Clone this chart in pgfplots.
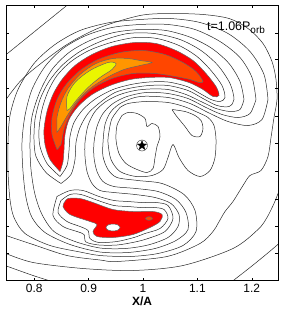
\documentclass[border=0pt]{standalone}
\usepackage{fontspec}
\setmainfont{Liberation Sans}
\usepackage{pgfplots}
\pgfplotsset{compat=1.18}
\definecolor{cred}{RGB}{255,0,0}
\definecolor{cor}{RGB}{255,70,0}
\definecolor{corange}{RGB}{255,150,0}
\definecolor{cyel}{RGB}{235,245,0}
\pgfdeclareplotmark{fstar}{%
 \pgfpathmoveto{\pgfqpoint{0pt}{5pt}}%
 \pgfpathlineto{\pgfqpoint{-1.18pt}{1.62pt}}%
 \pgfpathlineto{\pgfqpoint{-4.76pt}{1.55pt}}%
 \pgfpathlineto{\pgfqpoint{-1.9pt}{-0.62pt}}%
 \pgfpathlineto{\pgfqpoint{-2.94pt}{-4.05pt}}%
 \pgfpathlineto{\pgfqpoint{0pt}{-2pt}}%
 \pgfpathlineto{\pgfqpoint{2.94pt}{-4.05pt}}%
 \pgfpathlineto{\pgfqpoint{1.9pt}{-0.62pt}}%
 \pgfpathlineto{\pgfqpoint{4.76pt}{1.55pt}}%
 \pgfpathlineto{\pgfqpoint{1.18pt}{1.62pt}}%
 \pgfpathclose
 \pgfusepathqfillstroke}
\begin{document}
\begin{tikzpicture}
\begin{axis}[at={(0,0)}, anchor=south west,
 width=272bp, height=275bp, scale only axis,
 xmin=6, xmax=278, ymin=6, ymax=281, y dir=reverse,
 xtick={34.2,88.6,143,197.4,251.8}, xticklabels={0.8,0.9,1,1.1,1.2},
 ytick={33.3,60,88.3,116.7,143.3,171.7,200,226.7,253.3}, yticklabels={},
 tick align=inside, tick pos=both,
 major tick length=3bp, tick style={black, line width=0.5pt},
 axis line style={black, line width=0.6pt},
 ticklabel style={font=\fontsize{12}{14}\selectfont},
 xlabel={\textbf{X/A}}, xlabel style={font=\fontsize{12}{14}\selectfont, yshift=2.5bp},
 axis on top,
 cl/.style={black!85, line width=0.5pt, smooth, tension=0.5, mark=none},
 fl/.style={draw=black!60, line width=0.5pt, smooth, tension=0.5, mark=none},
]
% ---- filled levels ----
\addplot[fl, fill=cred] coordinates {(60,172)(50,160)(45,145)(44,130)(47,112)(53,95)(62,80)(75,66)(92,55)(112,47)(135,43)(156,44)(176,51)(193,61)(206,74)(216,87)(219,96)(213,97)(203,90)(189,83)(169,78)(149,78)(130,80)(110,86)(92,95)(78,107)(69,120)(65,135)(64,150)(63,162)(60,172)} -- cycle;
\addplot[fl, fill=cor] coordinates {(57,150)(52,135)(52,118)(57,100)(66,85)(80,71)(98,60)(120,53)(143,51)(165,55)(183,63)(196,72)(203,82)(199,83)(190,80)(175,77)(155,74)(133,74)(112,79)(94,88)(80,100)(70,115)(64,130)(61,145)(57,150)} -- cycle;
\addplot[fl, fill=corange] coordinates {(57,133)(57,118)(61,103)(68,89)(80,75)(96,64)(113,59)(128,59)(140,61)(152,63)(140,66)(124,70)(107,78)(90,89)(77,102)(68,115)(61,127)(57,133)} -- cycle;
\addplot[fl, fill=cyel] coordinates {(67,111)(67,97)(75,83)(90,71)(108,63)(116,64)(112,70)(100,78)(88,88)(77,100)(70,109)(67,111)} -- cycle;
\addplot[fl, fill=cred] coordinates {(65,202)(63,207)(70,215)(90,222)(97,225)(93,232)(97,237)(113,238)(133,235)(150,228)(160,222)(162,215)(153,212)(133,212)(113,210)(93,203)(80,199)(68,199)(65,202)} -- cycle;
\addplot[fl, fill=white] coordinates {(120,228)(118,230.5)(113,231.5)(108,230.5)(106,228)(108,225.5)(113,224.5)(118,225.5)(120,228)} -- cycle;
\addplot[fl, fill=cor] coordinates {(152.5,219)(151.5,220.3)(149,220.8)(146.5,220.3)(145.5,219)(146.5,217.7)(149,217.2)(151.5,217.7)(152.5,219)} -- cycle;
% ---- contour lines ----
\addplot[cl] coordinates {(60,177)(47,164)(40,147)(39,130)(42,110)(48,92)(57,76)(71,62)(89,51)(111,43)(135,38)(157,39)(179,46)(197,57)(211,71)(222,86)(225,98)(220,102)(211,100)(200,94)(187,87)(168,82.5)(149,82.5)(131,85)(113,90)(96,99)(83,110)(74,123)(70,137)(69,151)(67,166)(60,177)};
\addplot[cl] coordinates {(61,184)(46,173)(36,157)(34,140)(35,120)(40,100)(49,82)(62,66)(80,52)(103,41)(128,34)(154,34)(180,40)(201,51)(218,66)(230,84)(234,100)(229,107)(217,106)(203,99)(188,91)(168,86)(149,86)(131,88.5)(115,93)(100,103)(88,114)(80,128)(76,143)(75,160)(71,175)(61,184)};
\addplot[cl] coordinates {(244,100)(240,110)(230,112)(216,109)(203,103)(186,95)(168,90)(150,89.5)(135,91)(120,95)(106,102)(95,112)(88,126)(85,143)(85,157)(87,172)(92,184)(100,191)(114,193)(135,195)(155,198)(171,204)(179,215)(178,227)(168,238)(148,245.5)(125,249)(100,248.5)(75,242)(54,232)(42,215)(35,195)(31,170)(30,143)(32,117)(40,92)(52,70)(69,53)(90,41)(114,33)(140,30)(166,31)(191,38)(212,49)(229,64)(240,82)(244,100)};
\addplot[cl] coordinates {(256,100)(250,114)(238,118)(222,115)(206,108)(188,99)(168,94)(146,93)(127,97)(113,104)(103,114)(97,127)(94,143)(94,158)(97,172)(103,182)(114,187)(136,189)(158,192)(176,200)(186,213)(188,230)(176,241)(155,249)(128,253)(100,252.5)(70,245)(45,233)(32,218)(26,198)(23,172)(22,143)(25,116)(32,90)(45,67)(63,49)(86,36)(112,28)(140,25)(168,25)(195,30)(220,42)(240,58)(252,78)(256,100)};
\addplot[cl] coordinates {(268,100)(262,120)(248,126)(228,122)(208,113)(190,104)(168,98)(140,97)(122,103)(111,112)(105,125)(103,143)(103,157)(108,170)(117,178)(138,181)(162,184)(184,195)(195,211)(196,232)(183,246)(158,254)(130,257)(100,256)(80,252.5)(50,246)(25,234)(14,218)(10,200)(8,172)(8,143)(10,116)(18,90)(34,64)(55,45)(80,31)(110,23)(140,20)(170,19)(200,23)(228,34)(250,52)(264,75)(268,100)};
\addplot[cl] coordinates {(61,201)(70,195)(81,195)(98,201)(114,206)(128,207)(141,208)(154,208)(164,210)(168,219)(160,229)(145,234)(134,238)(117,242)(99,243)(90,239)(88,231)(80,227)(67,222)(58,213)(61,201)};
\addplot[cl] coordinates {(57,197)(70,191)(83,191)(99,197)(114,201)(128,202)(142,203)(156,203)(168,206)(173,219)(165,232)(148,239)(135,242.5)(117,245.5)(99,245.5)(86,242.5)(84,235)(77,232)(63,227)(53,216)(57,197)};
\addplot[cl] coordinates {(120,108)(112,119)(109,132)(108,143)(111,160)(120,172)(136,177)(152,176)(163,170)(168,158)(173,145)(179,158)(188,171)(200,177)(210,171)(215,158)(216,140)(214,126)(208,118)(198,113)(184,107)(168,103)(146,102)(128,104)(120,108)};
\addplot[cl] coordinates {(122,116)(117,126)(116,140)(119,154)(126,164)(137,170)(147,173)(153,169)(155,158)(157,147)(160,137)(158,127)(152,124)(147,127)(145,119)(137,114)(128,113)(122,116)};
\addplot[cl] coordinates {(172,110)(176,116)(185,127)(192,136)(200,137)(203,129)(201,121)(195,116)(185,112)(172,110)};
\addplot[cl] coordinates {(6,100)(20,82)(37,67)(67,45)(100,28)(140,16)(170,14)(203,15)(229,19)(248,29)(263,44)(272,62)(276,80)(277,100)(274,118)(271,138)(268,157)(261,171)(250,176)(243,186)(233,202)(225,212)(218,224)(213,232)(200,244)(167,257)(117,262)(100,260.5)(67,256)(33,245)(6,236)};
\addplot[cl] coordinates {(6,254)(33,263)(83,269)(133,271)(183,266)(233,249)(258,230)(267,218)(274,204)(278,194)};
\addplot[cl] coordinates {(5,266)(33,276)(52,282)};
\addplot[cl] coordinates {(232,282)(250,268)(266,255)(279,244)};
\addplot[cl] coordinates {(5,56)(68,5)};
% star and its circle
\addplot[black!65, line width=0.5pt, smooth, tension=0.5, mark=none] coordinates {(147.5,146)(146.8,148.75)(144.75,150.8)(142,151.5)(139.25,150.8)(137.2,148.75)(136.5,146)(137.2,143.25)(139.25,141.2)(142,140.5)(144.75,141.2)(146.8,143.25)(147.5,146)};
\addplot[only marks, mark=fstar, mark options={fill=black, draw=black, line width=0.3pt}] coordinates {(142,146)};
\node[anchor=base west, inner sep=0pt, font=\fontsize{12.5}{14}\selectfont] at (axis cs:207,31) {t=1.06P\raisebox{-3.5bp}{\fontsize{10}{11}\selectfont orb}};
\end{axis}
\pgfresetboundingbox
\path[use as bounding box] (-6bp,-30.5bp) rectangle (275bp,280.5bp);
\end{tikzpicture}
\end{document}
